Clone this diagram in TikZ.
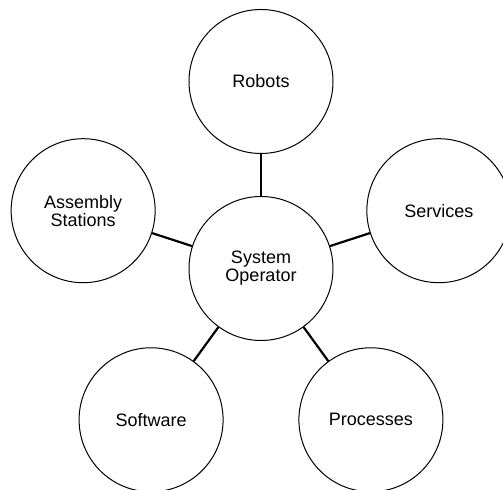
\documentclass[tikz,border=0pt]{standalone}
\usepackage{fontspec}
\setmainfont{Liberation Sans}
\usetikzlibrary{positioning}
\tikzset{
  circulo/.style = {draw, circle, line width=0.5pt, minimum size=72pt,
                    inner sep=0pt, align=center,
                    font=\fontsize{9}{9}\selectfont},
  enlace/.style  = {line width=1.1pt},
}
\begin{document}
\begin{tikzpicture}
  \useasboundingbox (-130.5pt,-110.75pt) rectangle (121pt,134.25pt);
  % nodo central y los cinco alrededor
  \node[circulo] (operador) at (0,0) {System\\Operator};
  \node[circulo] (robots)     at (90:93.5pt)  {Robots};
  \node[circulo] (servicios)  at (18:93.5pt)  {Services};
  \node[circulo] (procesos)   at (-54:93.5pt) {Processes};
  \node[circulo] (software)   at (234:93.5pt) {Software};
  \node[circulo] (estaciones) at (162:93.5pt) {Assembly\\Stations};
  \foreach \n in {robots,servicios,procesos,software,estaciones}
    \draw[enlace] (operador) -- (\n);
\end{tikzpicture}
\end{document}
